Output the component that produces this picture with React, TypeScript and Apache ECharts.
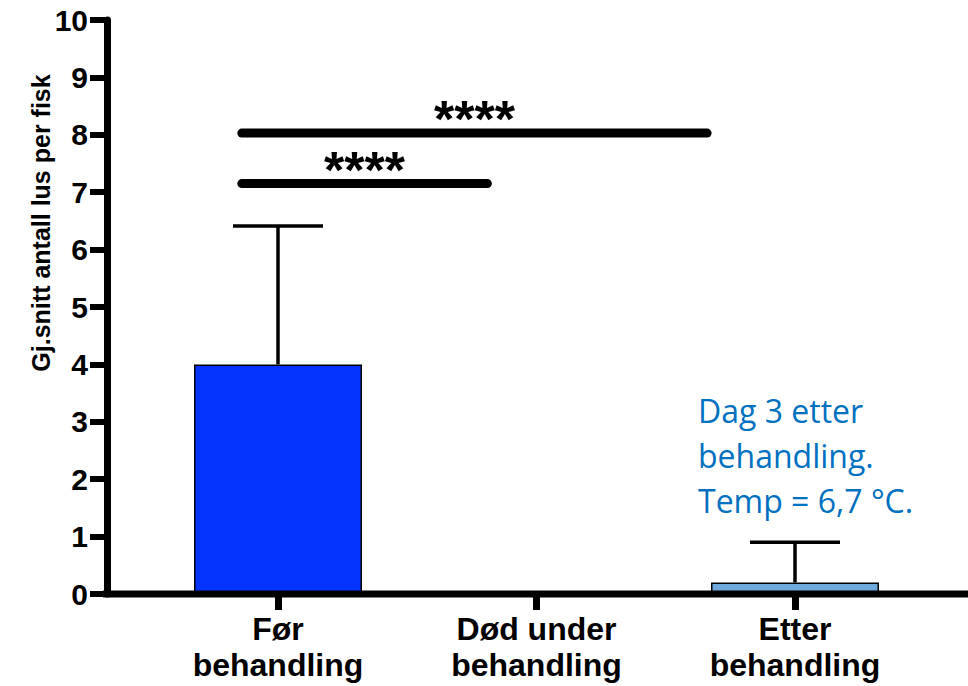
import React, { useEffect, useRef } from "react";
import * as echarts from "echarts";

const categories = ["Før\nbehandling", "Død under\nbehandling", "Etter\nbehandling"];
const barValues = [4.0, 0, 0.2];
const barColors = ["#0433FF", "#0433FF", "#6FA8DC"];
const errorCats = [0, 2];
const errorTops = [6.41, 0.9];
const yTicks = [0, 10, 1];
const sigStart = [-0.14, -0.14];
const sigEnd = [0.81, 1.66];
const sigY = [7.15, 8.03];
const sigLabels = ["****", "****"];
const yAxisTitle = "Gj.snitt antall lus per fisk";
const noteLines = ["Dag 3 etter", "behandling.", "Temp = 6,7 °C."];

const FONT = '"Liberation Sans", Arial, Helvetica, sans-serif';

export default function App() {
  const ref = useRef<HTMLDivElement>(null);
  useEffect(() => {
    if (!ref.current) return;
    const chart = echarts.init(ref.current, null, { renderer: "svg" });
    const option: any = {
      animation: false,
      backgroundColor: "#ffffff",
      grid: { left: 148.75, right: 43.75, top: 20, bottom: 92, containLabel: false },
      xAxis: {
        type: "category",
        data: categories,
        axisLine: { show: false },
        axisTick: { show: true, alignWithLabel: true, length: 16, lineStyle: { color: "#000", width: 7 } },
        axisLabel: {
          margin: 17,
          fontFamily: FONT,
          fontWeight: "bold",
          fontSize: 32,
          lineHeight: 36,
          color: "#000",
        },
        splitLine: { show: false },
      },
      yAxis: {
        type: "value",
        min: yTicks[0],
        max: yTicks[1],
        interval: yTicks[2],
        offset: 41.75,
        axisLine: { show: true, lineStyle: { color: "#000", width: 7 } },
        axisTick: { show: true, length: 17, lineStyle: { color: "#000", width: 6 } },
        axisLabel: { margin: 19, fontFamily: FONT, fontWeight: "bold", fontSize: 30, color: "#000" },
        splitLine: { show: false },
      },
      series: [
        {
          type: "bar",
          barWidth: 168,
          data: barValues.map((v, i) => ({
            value: v,
            itemStyle: { color: barColors[i], borderColor: "#000", borderWidth: v > 0 ? 1.5 : 0 },
          })),
          z: 2,
        },
        {
          type: "custom",
          z: 3,
          data: errorCats.map((c, i) => [c, barValues[c], errorTops[i]]),
          renderItem: (params: any, api: any) => {
            const x = api.value(0);
            const v = api.value(1);
            const e = api.value(2);
            const base = api.coord([x, v]);
            const top = api.coord([x, e]);
            const half = 45;
            return {
              type: "group",
              children: [
                { type: "line", shape: { x1: base[0], y1: base[1], x2: top[0], y2: top[1] }, style: { stroke: "#000", lineWidth: 3.5 } },
                { type: "line", shape: { x1: top[0] - half, y1: top[1], x2: top[0] + half, y2: top[1] }, style: { stroke: "#000", lineWidth: 3.5 } },
              ],
            };
          },
        },
        {
          type: "custom",
          z: 4,
          data: sigY.map((y) => [0, y]),
          renderItem: (params: any, api: any) => {
            const i = params.dataIndex;
            const c0 = api.coord([0, sigY[i]]);
            const bw = api.size([1, 0])[0];
            const x1 = c0[0] + sigStart[i] * bw;
            const x2 = c0[0] + sigEnd[i] * bw;
            return {
              type: "group",
              children: [
                {
                  type: "line",
                  shape: { x1, y1: c0[1], x2, y2: c0[1] },
                  style: { stroke: "#000", lineWidth: 9, lineCap: "round" },
                },
                {
                  type: "text",
                  style: {
                    text: sigLabels[i],
                    x: (x1 + x2) / 2,
                    y: c0[1] - 14,
                    textAlign: "center",
                    textVerticalAlign: "middle",
                    fontFamily: FONT,
                    fontWeight: "bold",
                    fontSize: 52,
                    fill: "#000",
                  },
                },
              ],
            };
          },
        },
      ],
    };
    chart.setOption(option);
    const y0 = chart.convertToPixel({ yAxisIndex: 0 }, 0) as number;
    chart.setOption({
      graphic: [
        {
          type: "line",
          shape: { x1: 103, y1: y0, x2: 968, y2: y0 },
          style: { stroke: "#000", lineWidth: 7 },
          z: 10,
        },
        {
          type: "text",
          x: 41,
          y: 223,
          rotation: Math.PI / 2,
          style: {
            text: yAxisTitle,
            textAlign: "center",
            textVerticalAlign: "middle",
            fontFamily: FONT,
            fontWeight: "bold",
            fontSize: 25,
            fill: "#000",
          },
        },
        {
          type: "text",
          x: 698,
          y: 455,
          style: {
            text: noteLines.join("\n"),
            textAlign: "left",
            textVerticalAlign: "middle",
            fontFamily: '"Open Sans", "Noto Sans", sans-serif',
            fontSize: 32,
            lineHeight: 45,
            fill: "#0070C0",
          },
        },
      ],
    });
    return () => chart.dispose();
  }, []);
  return <div ref={ref} style={{ position: "fixed", left: 0, top: 0, width: 968, height: 686 }} />;
}
